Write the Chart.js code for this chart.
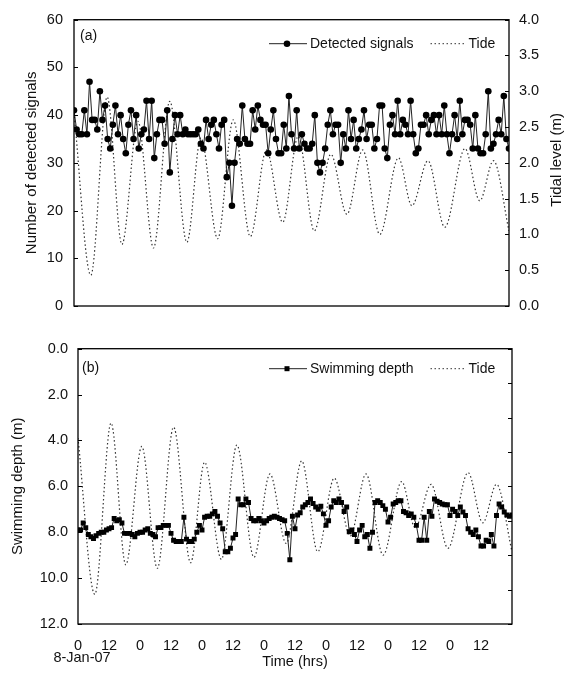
<!DOCTYPE html>
<html>
<head>
<meta charset="utf-8">
<script src="https://cdn.jsdelivr.net/npm/chart.js@4.4.0/dist/chart.umd.min.js"></script>
<style>
  html, body { margin: 0; padding: 0; background: #fff; }
  #wrap { position: relative; width: 573px; height: 677px; }
  .panel { position: absolute; left: 0; }
  #pa { top: 0; }
  #pb { top: 330px; }
</style>
</head>
<body>
<div id="wrap">
  <div class="panel" id="pa"><canvas id="chartA" width="573" height="330"></canvas></div>
  <div class="panel" id="pb"><canvas id="chartB" width="573" height="347"></canvas></div>
</div>
<script>
// hourly counts of detected signals, hour 0 .. 168
const signals = [
  41, 37, 36, 36, 41, 36, 47, 39, 39, 37,
  45, 39, 42, 35, 33, 38, 42, 36, 40, 35,
  32, 38, 41, 35, 40, 33, 36, 37, 43, 35,
  43, 31, 36, 39, 39, 34, 41, 28, 35, 40,
  36, 40, 36, 37, 36, 36, 36, 36, 37, 34,
  33, 39, 35, 38, 39, 36, 33, 38, 39, 27,
  30, 21, 30, 35, 34, 42, 35, 34, 34, 41,
  37, 42, 39, 38, 38, 32, 37, 41, 35, 32,
  32, 38, 33, 44, 36,
  33, 41, 33, 36, 34, 33, 33, 34, 40, 30,
  28, 30, 33, 38, 41, 36, 38, 38, 30, 36,
  33, 41, 35, 39, 33, 35, 37, 41, 35,
  38, 38, 33, 35, 42, 42, 33, 31, 38,
  40, 36, 43, 36, 39, 38, 36, 43, 36, 32,
  33, 38, 38, 40, 36, 39, 40, 36, 40, 36,
  42, 36, 32, 36, 40, 35, 43, 36, 39, 39,
  38, 33, 40, 33, 32, 32, 36, 45, 33,
  34, 36, 39, 36, 44, 35, 33
];

// hourly swimming depth (m), hour 0 .. 168
const depth = [
  7.9, 7.9, 7.6, 7.8, 8.1, 8.2, 8.27, 8.15, 8.05, 8.0,
  8.0, 7.9, 7.85, 7.8, 7.4, 7.5, 7.45, 7.6, 8.05, 8.05,
  8.05, 8.1, 8.2, 8.05, 8.0, 8.0, 7.9, 7.85, 8.05, 8.1,
  8.2, 7.8, 7.8, 7.7, 7.7, 7.7, 8.05, 8.35, 8.4, 8.4,
  8.4, 7.35, 8.3, 8.4, 8.4, 8.3, 8.0, 7.7, 7.9, 7.35,
  7.3, 7.3, 7.2, 7.1, 7.3, 7.6, 7.85, 8.85, 8.85, 8.7,
  8.25, 8.1, 6.55, 6.8, 6.8, 6.55, 6.7, 7.4, 7.5, 7.5,
  7.4, 7.5, 7.6, 7.5, 7.4, 7.35, 7.3, 7.35, 7.4, 7.45,
  7.5, 8.05, 9.2,
  7.3, 7.85, 7.25, 7.15, 6.9, 6.8, 6.7, 6.55, 6.75, 6.9,
  7.0, 6.87, 7.2, 7.7, 7.5, 6.9, 6.63, 6.7, 6.55,
  6.7, 7.1, 6.9, 7.98, 7.9, 8.1, 8.4, 7.9,
  7.7, 8.2, 8.1, 8.7, 8.0, 6.7, 6.63, 6.7, 6.84, 7.0,
  7.55, 7.35, 6.77, 6.7, 6.63, 6.63, 7.1, 7.15, 7.27,
  7.2, 7.35, 7.7, 8.35, 8.35, 7.35, 8.35, 7.1, 7.3, 6.55,
  6.65, 6.7, 6.77, 6.8, 6.8, 7.27, 7.0, 7.1,
  7.27, 6.9, 7.12, 7.27, 7.85, 8.0, 8.1, 7.9, 8.2, 8.6,
  8.6, 8.35, 8.4, 8.1, 8.6, 7.27, 6.77, 6.9, 7.12, 7.25,
  7.3, 7.25
];

// tide highs and lows (hour, level in m)
const tideHours = [0, 6.5, 12.8, 18.5, 24.7, 30.7, 37, 43.6, 49, 55.5, 61.5, 68.1, 74.3, 80.6,
  86.6, 92.8, 99.2, 105.4, 111.5, 118.1, 125.3, 130.5, 136.7, 143.2, 151, 156.7, 162, 168];
const tideLevel = [2.7, 0.43, 2.92, 0.86, 2.58, 0.81, 2.86, 0.89, 2.35, 0.94, 2.6, 0.97, 2.18, 1.17,
  2.37, 1.05, 2.12, 1.28, 2.18, 1.0, 2.07, 1.4, 2.03, 1.1, 2.2, 1.47, 2.03, 1.05];

const hourLabels = ['0', '12'];

const FONT = '"Liberation Sans", Arial, Helvetica, sans-serif';
Chart.defaults.font.family = FONT;
Chart.defaults.font.size = 14.5;
Chart.defaults.color = '#111';

const byHour = arr => arr.map((v, i) => ({ x: i, y: v }));
const tide = tideHours.map((h, i) => ({ x: h, y: tideLevel[i] }));
const titleFont = { size: 15 };

function seg(ctx, x0, y0, x1, y1) {
  ctx.beginPath(); ctx.moveTo(x0, y0); ctx.lineTo(x1, y1); ctx.stroke();
}

// frame, inward ticks, panel letter, in-plot legend and extra texts
function decor(o) {
  return {
    id: 'decor',
    afterDraw(chart) {
      const ctx = chart.ctx, a = chart.chartArea;
      ctx.save();
      ctx.strokeStyle = '#000';
      ctx.lineWidth = 1.3;
      ctx.strokeRect(a.left, a.top, a.right - a.left, a.bottom - a.top);

      ctx.lineWidth = 1;
      ['y', 'y1'].forEach(id => {
        const s = chart.scales[id];
        const x0 = s.position === 'left' ? a.left : a.right;
        const d = s.position === 'left' ? 4 : -4;
        s.ticks.forEach(t => {
          const y = Math.round(s.getPixelForValue(t.value)) + 0.5;
          seg(ctx, x0, y, x0 + d, y);
        });
      });

      ctx.font = '14px ' + FONT;
      ctx.fillStyle = '#111';
      ctx.textBaseline = 'middle';
      ctx.fillText(o.letter, a.left + o.letterDx, a.top + o.letterDy);

      // legend
      const lx = a.left + o.legendDx, ly = a.top + o.legendDy;
      ctx.strokeStyle = '#222';
      seg(ctx, lx, ly, lx + 38, ly);
      ctx.fillStyle = '#000';
      if (o.marker === 'circle') {
        ctx.beginPath(); ctx.arc(lx + 18, ly, 3.3, 0, Math.PI * 2); ctx.fill();
      } else {
        ctx.fillRect(lx + 15.5, ly - 2.5, 5, 5);
      }
      ctx.fillStyle = '#111';
      ctx.fillText(o.seriesName, lx + 41, ly);
      const dx = lx + 41 + ctx.measureText(o.seriesName).width + 17;
      ctx.strokeStyle = '#333';
      ctx.setLineDash([1.5, 2.5]);
      seg(ctx, dx, ly, dx + 34, ly);
      ctx.setLineDash([]);
      ctx.fillText('Tide', dx + 38, ly);

      if (o.rightTitle) {
        ctx.save();
        ctx.font = '15px ' + FONT;
        ctx.translate(o.rightTitleX, (a.top + a.bottom) / 2 - 3);
        ctx.rotate(-Math.PI / 2);
        ctx.textAlign = 'center';
        ctx.fillText(o.rightTitle, 0, 0);
        ctx.restore();
      }
      if (o.dateLabel) {
        ctx.textAlign = 'center';
        ctx.font = '14.5px ' + FONT;
        ctx.fillText(o.dateLabel, chart.scales.x.getPixelForValue(0) + 4, o.dateY);
      }
      ctx.restore();
    }
  };
}

const noGrid = { display: false, drawTicks: false };

// (a) detected signals
new Chart(document.getElementById('chartA'), {
  type: 'line',
  data: {
    datasets: [{
      label: 'Detected signals',
      data: byHour(signals),
      yAxisID: 'y',
      borderColor: '#222',
      borderWidth: 1,
      pointRadius: 3.3,
      pointBackgroundColor: '#000',
      pointBorderWidth: 0
    }, {
      label: 'Tide',
      data: tide,
      yAxisID: 'y1',
      borderColor: '#333',
      borderWidth: 1.2,
      borderDash: [1.5, 2.5],
      pointRadius: 0,
      cubicInterpolationMode: 'monotone'
    }]
  },
  options: {
    responsive: false,
    animation: false,
    layout: { padding: { top: 17, left: 0, right: 0, bottom: 0 } },
    plugins: { legend: { display: false }, tooltip: { enabled: false } },
    scales: {
      x: {
        type: 'linear', min: 0, max: 168,
        ticks: { display: false },
        grid: noGrid, border: { display: false },
        afterFit: s => { s.height = 24; }
      },
      y: {
        position: 'left', min: 0, max: 60,
        ticks: { stepSize: 10, padding: 11 },
        grid: noGrid, border: { display: false },
        title: { display: true, text: 'Number of detected signals', font: titleFont, padding: { top: 23, bottom: 0 } },
        afterFit: s => { s.width = 74; }
      },
      y1: {
        position: 'right', min: 0, max: 4,
        ticks: { stepSize: 0.5, padding: 10, callback: v => v.toFixed(1) },
        grid: noGrid, border: { display: false },
        afterFit: s => { s.width = 64; }
      }
    }
  },
  plugins: [decor({
    letter: '(a)', letterDx: 6, letterDy: 16,
    legendDx: 195, legendDy: 24, marker: 'circle', seriesName: 'Detected signals',
    rightTitle: 'Tidal level (m)', rightTitleX: 557
  })]
});

// (b) swimming depth
new Chart(document.getElementById('chartB'), {
  type: 'line',
  data: {
    datasets: [{
      label: 'Swimming depth',
      data: byHour(depth),
      yAxisID: 'y',
      borderColor: '#222',
      borderWidth: 1,
      pointStyle: 'rect',
      pointRadius: 3.5,
      pointBackgroundColor: '#000',
      pointBorderWidth: 0
    }, {
      label: 'Tide',
      data: tide,
      yAxisID: 'y1',
      borderColor: '#333',
      borderWidth: 1.2,
      borderDash: [1.5, 2.5],
      pointRadius: 0,
      cubicInterpolationMode: 'monotone'
    }]
  },
  options: {
    responsive: false,
    animation: false,
    layout: { padding: { top: 13, left: 0, right: 0, bottom: 0 } },
    plugins: { legend: { display: false }, tooltip: { enabled: false } },
    scales: {
      x: {
        type: 'linear', min: 0, max: 168,
        ticks: {
          stepSize: 12, padding: 13, autoSkip: false, maxRotation: 0,
          callback: v => (v >= 168 ? '' : hourLabels[(v / 12) % 2])
        },
        grid: noGrid, border: { display: false },
        title: { display: true, text: 'Time (hrs)', font: { size: 14.5 }, padding: { top: 0, bottom: 6 } },
        afterFit: s => { s.height = 53; }
      },
      y: {
        position: 'left', reverse: true, min: 0, max: 12,
        ticks: { stepSize: 2, padding: 10, callback: v => v.toFixed(1) },
        grid: noGrid, border: { display: false },
        title: { display: true, text: 'Swimming depth (m)', font: titleFont, padding: { top: 9, bottom: 0 } },
        afterFit: s => { s.width = 78; }
      },
      y1: {
        position: 'right', min: 0, max: 4,
        ticks: { display: false, stepSize: 0.5 },
        grid: noGrid, border: { display: false },
        afterFit: s => { s.width = 61; }
      }
    }
  },
  plugins: [decor({
    letter: '(b)', letterDx: 4, letterDy: 19,
    legendDx: 191, legendDy: 20, marker: 'rect', seriesName: 'Swimming depth',
    dateLabel: '8-Jan-07', dateY: 328
  })]
});
</script>
</body>
</html>
